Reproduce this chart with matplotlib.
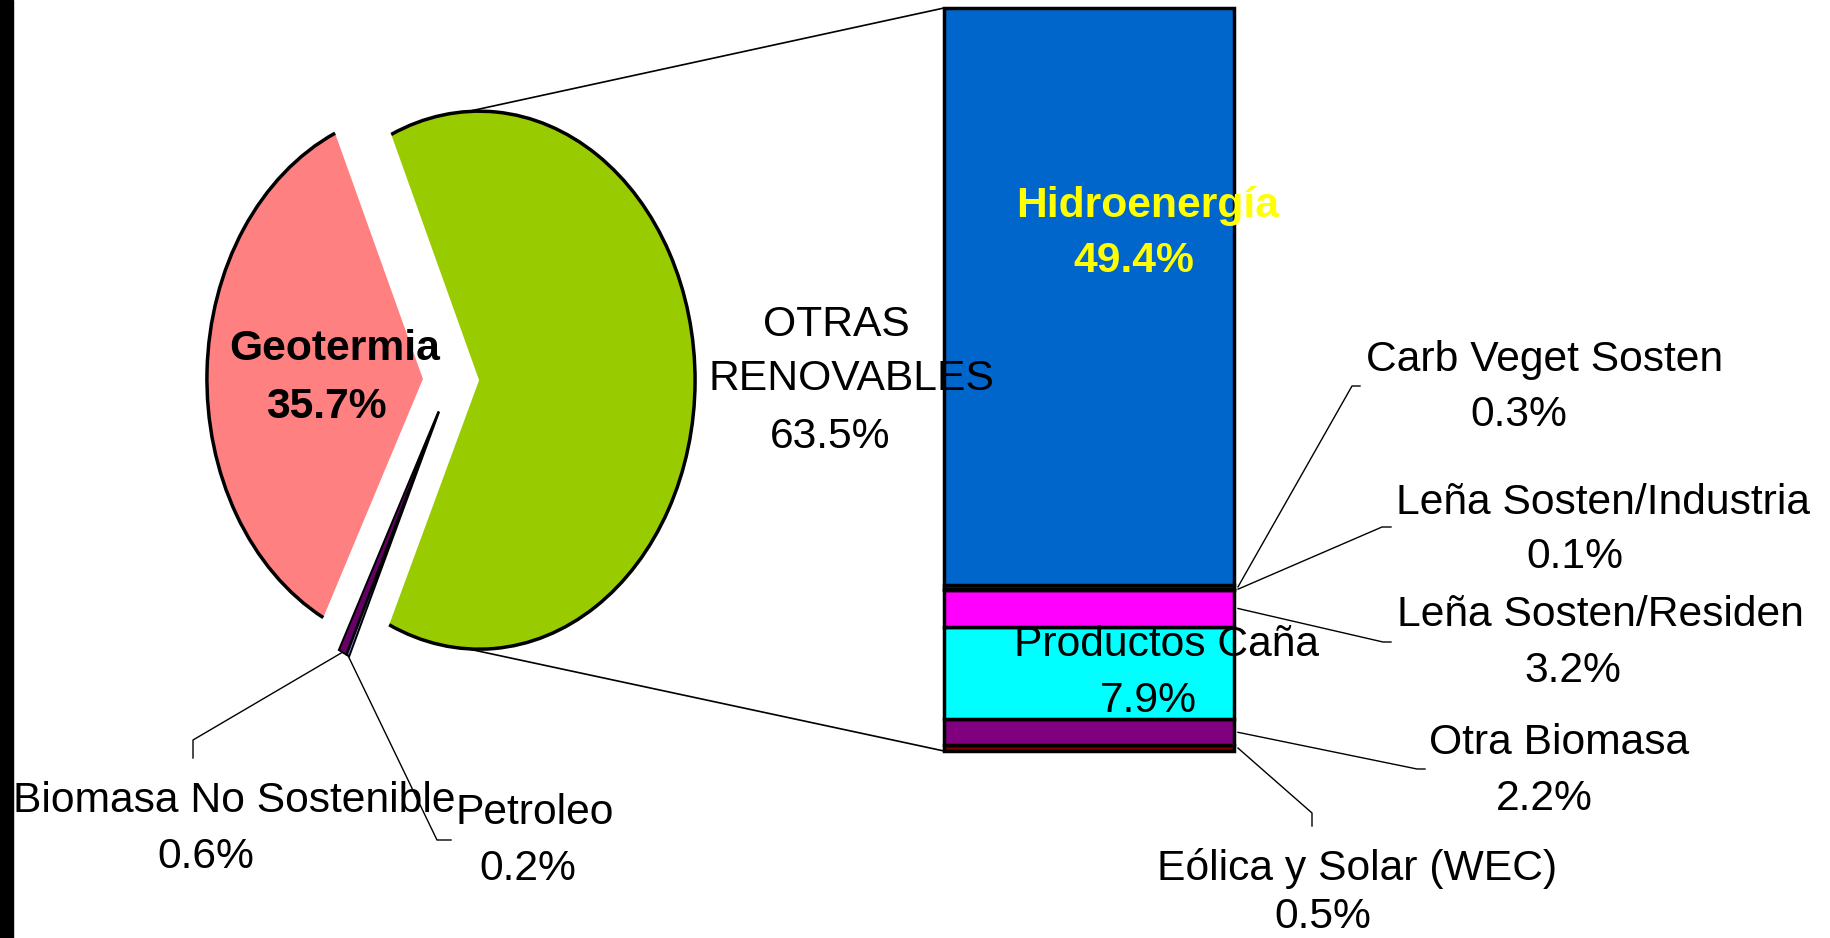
import matplotlib.pyplot as plt
import numpy as np
from matplotlib.patches import Arc, Rectangle

# pie of pie: left pie, right stacked bar breaking down "OTRAS RENOVABLES"
pie_names = ['Geotermia', 'Biomasa No Sostenible', 'Petroleo', 'OTRAS\nRENOVABLES']
pie_values = [35.7, 0.6, 0.2, 63.5]
pie_colors = ['#FF8080', '#660066', '#9999FF', '#99CC00']

bar_names = ['Eólica y Solar (WEC)', 'Otra Biomasa', 'Productos Caña',
             'Leña Sosten/Residen', 'Leña Sosten/Industria',
             'Carb Veget Sosten', 'Hidroenergía']
bar_values = [0.5, 2.2, 7.9, 3.2, 0.1, 0.3, 49.4]
bar_colors = ['#800000', '#800080', '#00FFFF', '#FF00FF', '#333333',
              '#333333', '#0066CC']

W, H = 1831, 938
plt.rcParams['font.family'] = ['Liberation Sans', 'DejaVu Sans']
fig = plt.figure(figsize=(W / 100, H / 100), dpi=100)


def px_axes(left, top, width, height):
    return fig.add_axes([left / W, 1 - (top + height) / H, width / W, height / H])


# pie (elliptical, exploded)
ax_pie = px_axes(148.6, 3.4, 604.8, 753.2)
wedges, _ = ax_pie.pie(pie_values, colors=pie_colors, explode=[0.13] * 4,
                       startangle=114, counterclock=True,
                       wedgeprops=dict(linewidth=0))
ax_pie.set_aspect('auto')
ax_pie.set_xlim(-1.4, 1.4)
ax_pie.set_ylim(-1.4, 1.4)
for i, w in enumerate(wedges):
    if pie_values[i] > 5:
        ax_pie.add_patch(Arc(w.center, 2 * w.r, 2 * w.r, theta1=w.theta1,
                             theta2=w.theta2, color='black', lw=2.5))
    else:
        w.set_edgecolor('black')
        w.set_linewidth(1.4)

# stacked bar
ax_bar = px_axes(944, 8, 290, 743)
bottoms = np.concatenate([[0], np.cumsum(bar_values)[:-1]])
total = sum(bar_values)
ax_bar.bar(0, bar_values, bottom=bottoms, width=1, color=bar_colors,
           edgecolor='black', linewidth=2.5, clip_on=False)
ax_bar.set_xlim(-0.5, 0.5)
ax_bar.set_ylim(0, total)
ax_bar.axis('off')

# overlay in pixel coordinates for lines and labels
ax_ov = fig.add_axes([0, 0, 1, 1])
ax_ov.set_xlim(0, W)
ax_ov.set_ylim(H, 0)
ax_ov.axis('off')
ax_ov.add_patch(Rectangle((0, 0), 13, H, color='black'))


def to_px(ax, x, y):
    return ax_ov.transData.inverted().transform(ax.transData.transform((x, y)))


def on_wedge(w, ang):
    a = np.deg2rad(ang)
    return to_px(ax_pie, w.center[0] + w.r * np.cos(a), w.center[1] + w.r * np.sin(a))


green = wedges[3]
for ang, yb in [(93, total), (267, 0)]:
    p0 = on_wedge(green, ang)
    p1 = to_px(ax_bar, -0.5, yb)
    ax_ov.plot([p0[0], p1[0]], [p0[1], p1[1]], color='black', lw=1.2)

fs = 30.7
dy = 3.5


def label(x, y, s, **kw):
    ax_ov.text(x, y + dy, s, fontsize=fs, ha='center', va='center', **kw)


# pie labels
label(335, 346, pie_names[0], fontweight='bold')
label(326, 403, f'{pie_values[0]}%', fontweight='bold')
label(836, 321, 'OTRAS')
label(851, 376, 'RENOVABLES')
label(830, 434, f'{pie_values[3]}%')

# small pie slices with leader lines
small = [(1, (193, 740), (193, 758), (234, 798), (206, 854)),
         (2, (437, 840), (451, 840), (535, 809), (528, 866))]
for i, knee, end, pn, pp in small:
    w = wedges[i]
    p0 = on_wedge(w, (w.theta1 + w.theta2) / 2)
    ax_ov.plot([p0[0], knee[0], end[0]], [p0[1], knee[1], end[1]], color='black', lw=1)
    label(pn[0], pn[1], pie_names[i])
    label(pp[0], pp[1], f'{pie_values[i]}%')

# bar labels
label(1148, 202, bar_names[6], fontweight='bold', color='#FFFF00')
label(1134, 258, f'{bar_values[6]}%', fontweight='bold', color='#FFFF00')
label(1167, 642, bar_names[2])
label(1148, 697, f'{bar_values[2]}%')

outside = [(0, (1312, 813), (1312, 826), (1357, 865), (1323, 914)),
           (1, (1417, 769), (1425, 769), (1559, 740), (1544, 796)),
           (3, (1383, 642), (1391, 642), (1600, 612), (1573, 668)),
           (4, (1382, 527), (1391, 527), (1603, 499), (1575, 553)),
           (5, (1352, 386), (1360, 386), (1545, 356), (1519, 412))]
for i, knee, end, pn, pp in outside:
    p0 = to_px(ax_bar, 0.5, bottoms[i] + bar_values[i] / 2)
    p0[0] += 4
    ax_ov.plot([p0[0], knee[0], end[0]], [p0[1], knee[1], end[1]], color='black', lw=1)
    label(pn[0], pn[1], bar_names[i])
    label(pp[0], pp[1], f'{bar_values[i]}%')

fig.savefig('out.png', dpi=100)
